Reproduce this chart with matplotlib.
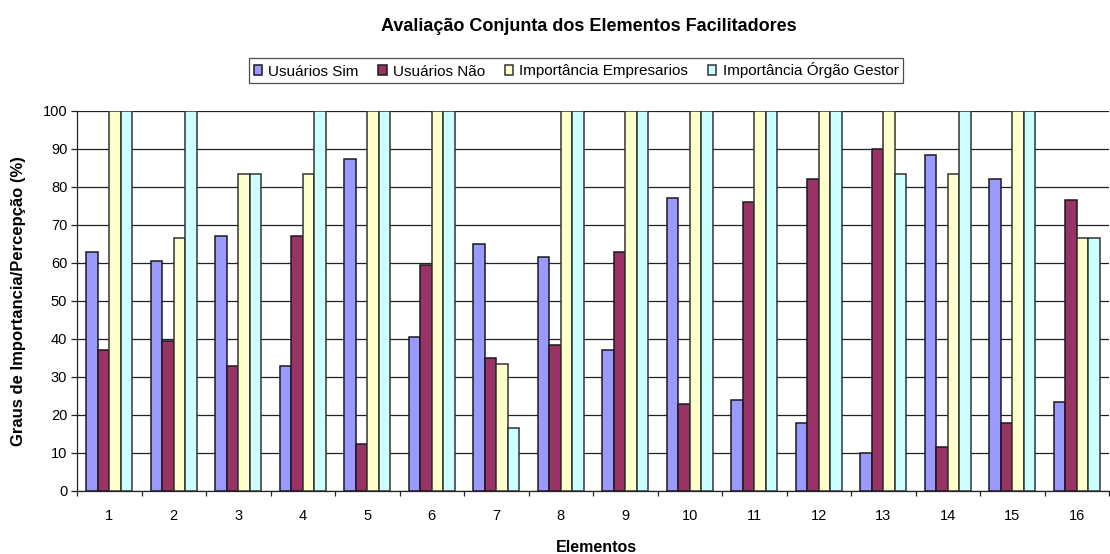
import numpy as np
import matplotlib.pyplot as plt

plt.rcParams['font.family'] = ['Liberation Sans', 'DejaVu Sans']

elementos = [str(i) for i in range(1, 17)]
usuarios_sim = [63, 60.5, 67, 33, 87.5, 40.5, 65, 61.5, 37, 77, 24, 18, 10, 88.5, 82, 23.3]
usuarios_nao = [37, 39.5, 33, 67, 12.5, 59.5, 35, 38.5, 63, 23, 76, 82, 90, 11.5, 18, 76.7]
imp_empresarios = [100, 66.7, 83.3, 83.3, 100, 100, 33.3, 100, 100, 100, 100, 100, 100, 83.3, 100, 66.7]
imp_gestor = [100, 100, 83.3, 100, 100, 100, 16.7, 100, 100, 100, 100, 100, 83.3, 100, 100, 66.7]

series = [
    ('Usuários Sim', usuarios_sim, '#9999FF', '#1a1a1a'),
    ('Usuários Não', usuarios_nao, '#993366', '#1a1a1a'),
    ('Importância Empresarios', imp_empresarios, '#FFFFCC', '#333333'),
    ('Importância Órgão Gestor', imp_gestor, '#CCFFFF', '#333333'),
]

fig = plt.figure(figsize=(11.1, 5.54), dpi=100)
ax = fig.add_axes([77 / 1110, 1 - 491 / 554, 1032 / 1110, 380 / 554])

x = np.arange(len(elementos))
w = 0.18
for k, (name, vals, color, edge) in enumerate(series):
    ax.bar(x + (k - 1.5) * w, vals, w, color=color, edgecolor=edge,
           linewidth=1.1, label=name, zorder=3)

ax.set_xlim(-0.5, len(elementos) - 0.5)
ax.set_ylim(0, 100)
ax.set_yticks(range(0, 101, 10))
ax.yaxis.grid(True, color='#222222', linewidth=0.9, zorder=0)
ax.set_axisbelow(True)

# labels centred on each group, tick marks on the group boundaries
ax.set_xticks(x)
ax.set_xticklabels(elementos)
ax.tick_params(axis='x', length=0, labelsize=10.5, pad=13)
ax.set_xticks(np.arange(-0.5, len(elementos) + 0.5, 1), minor=True)
ax.tick_params(axis='x', which='minor', length=3.5, width=0.9, direction='out', color='#222222')
ax.tick_params(axis='y', labelsize=10.5, length=4, width=0.9, pad=3, color='#222222')

for side in ('top', 'right'):
    ax.spines[side].set_visible(False)
for side in ('left', 'bottom'):
    ax.spines[side].set_color('#222222')
    ax.spines[side].set_linewidth(0.9)

fig.text(596 / 1110, 1 - 547 / 554, 'Elementos', ha='center', va='center',
         fontsize=11.5, fontweight='bold')
fig.text(19 / 1110, 1 - 301 / 554, 'Graus de Importancia/Percepção (%)', ha='center',
         va='center', rotation=90, fontsize=12, fontweight='bold')

fig.text(589 / 1110, 1 - 31 / 554, 'Avaliação Conjunta dos Elementos Facilitadores',
         ha='center', va='baseline', fontsize=13, fontweight='bold')

leg = fig.legend(loc='center', bbox_to_anchor=(576 / 1110, 1 - 70.5 / 554), ncol=4,
                 fontsize=11, frameon=True, fancybox=False, edgecolor='#222222',
                 handlelength=0.55, handleheight=0.55, handletextpad=0.4,
                 columnspacing=1.3, borderpad=0.3, borderaxespad=0)
leg.get_frame().set_linewidth(0.9)

fig.savefig('out.png', dpi=100)
